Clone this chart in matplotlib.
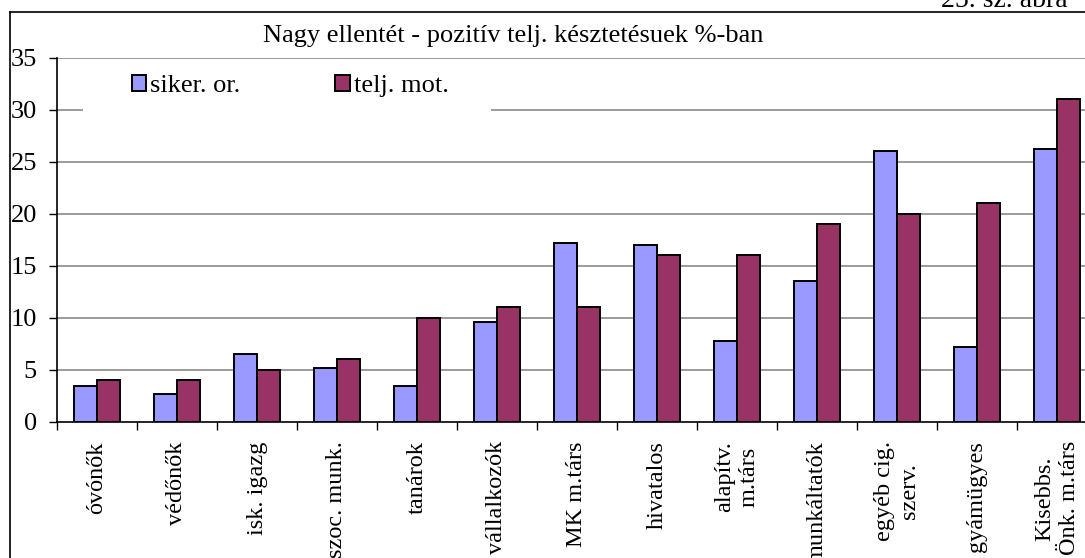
import matplotlib
matplotlib.use("Agg")
import matplotlib.pyplot as plt
import numpy as np
from matplotlib.patches import Rectangle
from matplotlib.lines import Line2D

plt.rcParams['font.family'] = ['Liberation Serif', 'DejaVu Serif']

categories = ["óvónők", "védőnők", "isk. igazg", "szoc. munk.", "tanárok",
              "vállalkozók", "MK m.társ", "hivatalos", "alapítv.\nm.társ",
              "munkáltatók", "egyéb cig.\nszerv.", "gyámügyes",
              "Kisebbs.\nÖnk. m.társ"]
siker_or = [3.4, 2.7, 6.5, 5.2, 3.4, 9.6, 17.2, 17.0, 7.8, 13.5, 26.0, 7.2, 26.2]
telj_mot = [4, 4, 5, 6, 10, 11, 11, 16, 16, 19, 20, 21, 31]
series_names = ["siker. or.", "telj. mot."]
yticks = [0, 5, 10, 15, 20, 25, 30, 35]
title = "Nagy ellentét - pozitív telj. késztetésuek %-ban"
caption = "25. sz. ábra"

W, H = 1085, 558
fig = plt.figure(figsize=(W / 100, H / 100), dpi=100)
fs = 19
fs_x = 17.5

def fx(px):
    return px / W

def fy(py):
    return 1 - py / H

left, right, top, bottom = 57, 1097, 57.7, 421.7
ax = fig.add_axes([fx(left), fy(bottom), fx(right) - fx(left), fy(top) - fy(bottom)])

x = np.arange(len(categories))
bw = 0.2875
ax.bar(x - bw / 2, siker_or, bw, color="#9999FF", edgecolor="black", linewidth=1.4,
       label=series_names[0], zorder=3)
ax.bar(x + bw / 2, telj_mot, bw, color="#993366", edgecolor="black", linewidth=1.4,
       label=series_names[1], zorder=3)

ax.set_xlim(-0.5, len(categories) - 0.5)
ax.set_ylim(0, 35)
ax.set_yticks(yticks)
ax.set_yticklabels([str(v) for v in yticks], fontsize=fs)
ax.tick_params(axis='y', length=6, width=1, pad=8.5, direction='out')

ax.set_xticks(x)
ax.set_xticklabels(categories, rotation=90, fontsize=fs_x, va='top', ha='center',
                   multialignment='center', linespacing=1.2)
ax.tick_params(axis='x', which='major', length=0, pad=14)
ax.set_xticks(np.arange(len(categories) + 1) - 0.5, minor=True)
ax.tick_params(axis='x', which='minor', length=6, width=1, direction='out')

for s in ['top', 'right']:
    ax.spines[s].set_visible(False)
ax.spines['left'].set_linewidth(1.2)
ax.spines['bottom'].set_linewidth(1.2)

ax.set_axisbelow(True)
for v in yticks[1:]:
    ax.axhline(v, color="#808080", linewidth=1.1, zorder=1)

# white box behind legend hiding the gridline
ax.add_patch(Rectangle((fx(83), fy(112)), fx(491) - fx(83), fy(62) - fy(112),
                       transform=fig.transFigure, facecolor="white",
                       edgecolor="none", zorder=2))

leg = ax.legend(loc='center left', bbox_to_anchor=(fx(132), fy(86)),
                bbox_transform=fig.transFigure, ncol=2, frameon=False,
                fontsize=fs, borderpad=0, borderaxespad=0,
                handlelength=0.54, handleheight=0.58, handletextpad=0.15,
                columnspacing=3.6)
leg.set_zorder(5)

fig.text(0.5 * (fx(265) + fx(762)), fy(36), title, fontsize=fs, ha='center', va='center')
fig.text(fx(1068), fy(7), caption, fontsize=fs + 1, ha='right', va='baseline')

# outer frame
fig.add_artist(Line2D([fx(10), fx(10)], [fy(12), 0], transform=fig.transFigure,
                      color='black', linewidth=1.2))
fig.add_artist(Line2D([fx(10), 1], [fy(12), fy(12)], transform=fig.transFigure,
                      color='black', linewidth=1.2))

fig.savefig("out.png", dpi=100)
